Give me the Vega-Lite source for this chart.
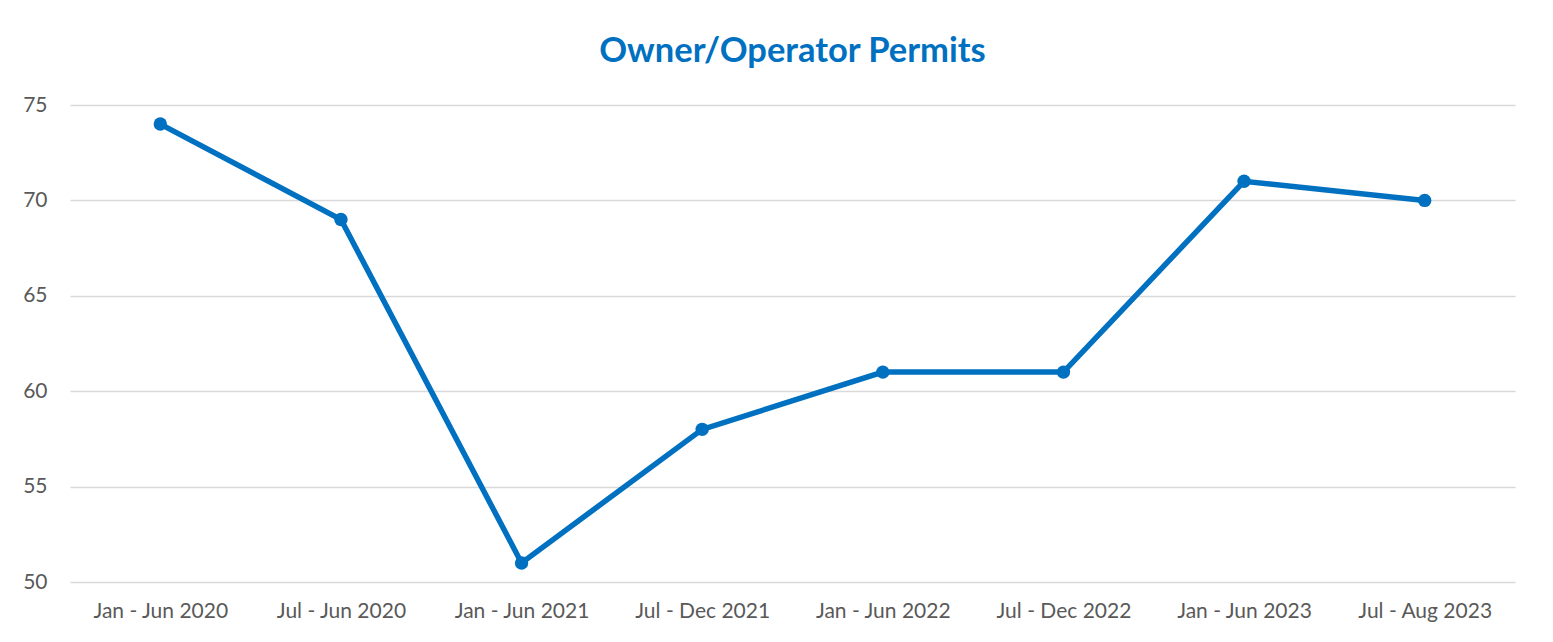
{
  "$schema": "https://vega.github.io/schema/vega-lite/v6.json",
  "width": 1445,
  "height": 477,
  "autosize": {"type": "none"},
  "padding": {"left": 70, "top": 105, "right": 38, "bottom": 60},
  "background": "white",
  "title": {
    "text": "Owner/Operator Permits",
    "anchor": "middle",
    "font": "Lato",
    "fontSize": 34.5,
    "fontWeight": "bold",
    "color": "#0070C0",
    "offset": 25
  },
  "config": {
    "view": {"stroke": null},
    "axis": {
      "labelFont": "Lato",
      "labelFontSize": 21,
      "labelColor": "#595959",
      "domain": false,
      "ticks": false,
      "title": null
    }
  },
  "data": {
    "values": [
      {"period": "Jan - Jun 2020", "permits": 74},
      {"period": "Jul - Jun 2020", "permits": 69},
      {"period": "Jan - Jun 2021", "permits": 51},
      {"period": "Jul - Dec 2021", "permits": 58},
      {"period": "Jan - Jun 2022", "permits": 61},
      {"period": "Jul - Dec 2022", "permits": 61},
      {"period": "Jan - Jun 2023", "permits": 71},
      {"period": "Jul - Aug 2023", "permits": 70}
    ]
  },
  "mark": {
    "type": "line",
    "color": "#0070C0",
    "strokeWidth": 5.5,
    "point": {"filled": true, "size": 180, "color": "#0070C0", "opacity": 1}
  },
  "encoding": {
    "x": {
      "field": "period",
      "type": "ordinal",
      "sort": null,
      "scale": {"type": "point", "padding": 0.5},
      "axis": {"labelAngle": 0, "labelPadding": 18, "grid": false}
    },
    "y": {
      "field": "permits",
      "type": "quantitative",
      "scale": {"domain": [50, 75], "zero": false, "nice": false},
      "axis": {
        "values": [50, 55, 60, 65, 70, 75],
        "grid": true,
        "gridColor": "#d9d9d9",
        "gridWidth": 1.5,
        "labelPadding": 23
      }
    }
  }
}
